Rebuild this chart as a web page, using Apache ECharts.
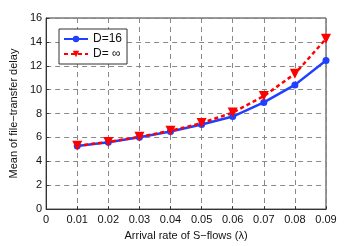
<!DOCTYPE html>
<html><head><meta charset="utf-8">
<script src="https://cdn.jsdelivr.net/npm/echarts@6/dist/echarts.min.js"></script>
<style>html,body{margin:0;padding:0;background:#fff}#c{width:360px;height:246px}</style>
</head><body><div id="c"></div>
<script>
const xValues = [0.01,0.02,0.03,0.04,0.05,0.06,0.07,0.08,0.09];
const d16 = [5.28,5.6,6.02,6.5,7.08,7.75,8.93,10.4,12.45];
const dInf = [5.3,5.62,6.05,6.55,7.2,8.08,9.46,11.33,14.26];
const seriesNames = ['D=16','D= \u221e'];
const font = 'Liberation Sans, Arial, sans-serif';
const chart = echarts.init(document.getElementById('c'));
chart.setOption({
  animation:false,
  grid:{left:46,right:34,top:18,bottom:28,show:true,borderColor:'#333',borderWidth:1},
  legend:{left:59,top:29,orient:'vertical',itemWidth:24,itemHeight:8,itemGap:3,
    padding:[4,5,4,4],borderColor:'#333',borderWidth:1,backgroundColor:'#fff',
    textStyle:{fontFamily:font,fontSize:12,color:'#111'},
    data:seriesNames},
  xAxis:{type:'value',min:0,max:0.09,interval:0.01,
    name:'Arrival rate of S\u2212flows (\u03bb)',nameLocation:'middle',nameGap:18,
    nameTextStyle:{fontFamily:font,fontSize:11,color:'#111'},
    axisLine:{lineStyle:{color:'#333'}},axisTick:{inside:true,length:3,lineStyle:{color:'#333'}},
    axisLabel:{fontFamily:font,fontSize:11,color:'#111',margin:5,
      formatter:v=>v===0?'0':v.toFixed(2)},
    splitLine:{lineStyle:{color:'#888',type:[5,4]}}},
  yAxis:{type:'value',min:0,max:16,interval:2,
    name:'Mean of file\u2212transfer delay',nameLocation:'middle',nameGap:24,
    nameTextStyle:{fontFamily:font,fontSize:11,color:'#111'},
    axisLine:{lineStyle:{color:'#333'}},axisTick:{inside:true,length:3,lineStyle:{color:'#333'}},
    axisLabel:{fontFamily:font,fontSize:11,color:'#111',margin:4},
    splitLine:{lineStyle:{color:'#888',type:[5,4]}}},
  series:[
    {name:seriesNames[0],type:'line',data:xValues.map((x,i)=>[x,d16[i]]),
      color:'#2040ff',symbol:'circle',symbolSize:7,lineStyle:{width:2.5,color:'#2040ff'},
      itemStyle:{color:'#2040ff'}},
    {name:seriesNames[1],type:'line',data:xValues.map((x,i)=>[x,dInf[i]]),
      color:'#ff0000',symbol:'triangle',symbolRotate:180,symbolSize:10,
      lineStyle:{width:2.5,color:'#ff0000',type:[4,3]},itemStyle:{color:'#ff0000'}}
  ]
});
</script></body></html>
